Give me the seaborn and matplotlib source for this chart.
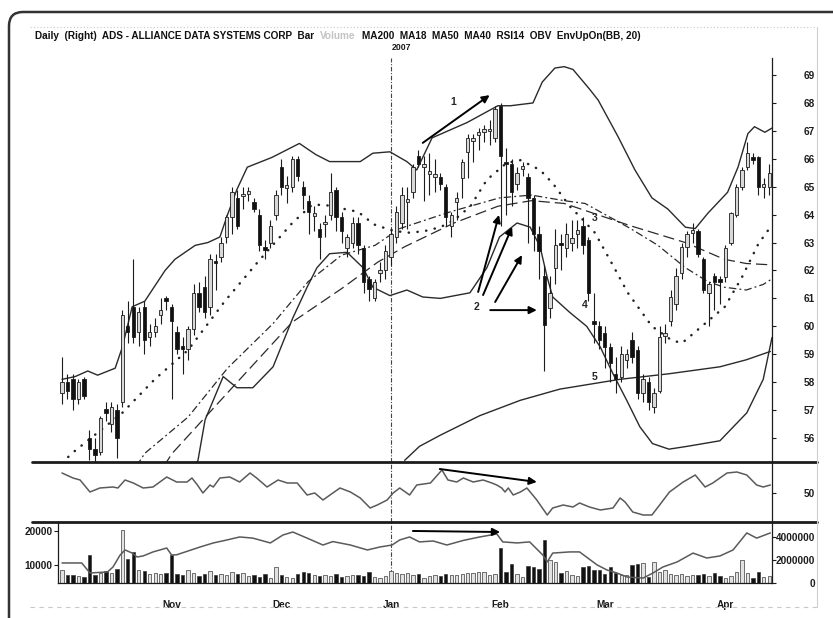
import matplotlib
matplotlib.use("Agg")
import matplotlib.pyplot as plt
import numpy as np
import pandas as pd
import seaborn as sns
from matplotlib.patches import FancyBboxPatch
from matplotlib.lines import Line2D

# ---------------- data ----------------
bar_index = list(range(1, 131))

opens = [57.6, 58.0, 58.1, 57.4, 58.1, 56.0, 55.6, 55.5, 57.05, 56.5,
         57.0, 57.3, 60.0, 60.7, 59.8, 60.7, 59.6, 59.8, 60.4, 61.0,
         60.7, 59.8, 59.3, 59.2, 59.9, 61.2, 61.4, 60.7, 62.35, 62.5,
         63.2, 63.9, 64.6, 64.65, 64.75, 64.45, 64.0, 62.85, 63.0, 64.0,
         65.7, 64.95, 65.0, 66.0, 65.0, 64.5, 63.95, 63.5, 63.65, 64.0,
         64.9, 63.9, 62.8, 63.0, 63.7, 62.8, 61.7, 61.0, 61.9, 62.0,
         62.5, 63.2, 63.7, 64.45, 64.8, 66.1, 65.7, 65.45, 65.35, 65.35,
         65.0, 63.6, 64.45, 65.3, 66.25, 66.65, 66.85, 66.95, 67.0, 66.75,
         67.9, 65.85, 65.8, 65.1, 65.65, 65.35, 64.6, 63.3, 61.8, 60.65,
         62.1, 62.95, 62.8, 63.0, 63.3, 63.6, 63.1, 60.2, 60.0, 59.75,
         59.25, 58.3, 58.2, 58.8, 59.5, 59.15, 57.6, 58.0, 57.1, 57.7,
         59.65, 60.2, 60.8, 61.9, 62.85, 63.35, 63.4, 62.4, 61.2, 61.8,
         61.65, 61.75, 63.0, 64.0, 65.0, 65.7, 66.05, 66.05, 65.0, 65.0]
highs = [58.9, 58.3, 58.3, 58.1, 58.2, 56.3, 56.0, 56.8, 57.3, 57.3,
         57.2, 60.6, 60.9, 62.4, 60.7, 60.9, 60.1, 60.3, 61.0, 61.1,
         60.8, 60.0, 59.6, 60.0, 61.5, 61.6, 61.8, 62.6, 62.6, 63.2,
         64.0, 65.0, 64.9, 65.0, 65.0, 64.6, 64.2, 63.1, 63.8, 64.9,
         66.0, 65.4, 66.1, 66.1, 65.2, 64.7, 64.3, 63.7, 64.0, 65.5,
         65.0, 64.1, 63.3, 63.9, 63.9, 62.9, 61.8, 61.7, 62.3, 62.9,
         63.5, 64.3, 65.0, 65.0, 65.8, 66.3, 66.1, 66.2, 66.0, 65.5,
         65.1, 64.1, 64.8, 66.0, 66.9, 66.9, 67.1, 67.2, 67.4, 67.9,
         68.0, 66.4, 66.0, 65.7, 65.9, 65.5, 64.7, 63.6, 62.2, 61.8,
         63.5, 63.3, 63.7, 63.8, 63.8, 63.9, 63.2, 61.2, 60.2, 60.0,
         59.4, 58.9, 59.3, 59.2, 59.8, 59.3, 58.3, 58.2, 57.8, 60.0,
         60.1, 61.3, 62.1, 63.0, 63.4, 63.7, 63.5, 62.5, 61.6, 61.9,
         61.8, 62.9, 64.1, 65.1, 65.7, 66.6, 66.2, 66.1, 65.3, 65.8]
lows = [57.2, 57.4, 57.0, 57.2, 57.4, 55.2, 55.1, 55.4, 56.6, 56.2,
        55.3, 57.1, 59.4, 59.4, 59.3, 59.0, 59.3, 59.6, 60.1, 60.6,
        57.4, 59.0, 58.3, 58.8, 59.7, 60.5, 60.3, 60.4, 61.3, 62.3,
        63.0, 63.3, 63.5, 64.2, 64.5, 64.1, 62.7, 62.4, 62.8, 63.8,
        64.7, 64.4, 64.8, 65.2, 64.2, 63.3, 63.4, 62.4, 63.2, 63.8,
        63.4, 63.0, 62.5, 62.8, 62.6, 61.2, 60.9, 60.9, 61.6, 61.7,
        62.2, 63.0, 63.5, 63.5, 64.6, 65.7, 64.5, 64.7, 64.8, 64.9,
        63.6, 63.2, 63.8, 64.6, 65.3, 65.9, 66.3, 66.6, 66.5, 66.6,
        63.6, 64.0, 64.3, 64.9, 65.4, 63.0, 62.7, 61.7, 58.4, 60.3,
        61.5, 62.0, 62.5, 62.7, 62.8, 62.6, 60.9, 59.4, 59.2, 58.5,
        58.0, 57.6, 58.0, 58.5, 58.7, 57.4, 57.3, 57.0, 56.9, 57.6,
        59.4, 60.0, 60.6, 61.7, 62.5, 63.0, 62.5, 61.2, 60.0, 60.6,
        60.8, 61.6, 62.9, 63.9, 64.9, 65.6, 65.8, 64.7, 64.6, 64.7]
closes = [58.0, 57.7, 57.4, 58.0, 57.5, 55.6, 55.4, 56.7, 56.9, 57.1,
          56.0, 60.4, 59.8, 59.6, 60.5, 59.5, 59.8, 60.0, 60.6, 60.9,
          60.2, 59.2, 59.2, 59.9, 61.2, 60.7, 60.5, 62.4, 62.25, 63.0,
          63.9, 64.8, 63.6, 64.75, 64.85, 64.2, 62.9, 62.75, 63.6, 64.7,
          65.0, 65.05, 66.0, 65.4, 64.7, 64.1, 64.05, 63.2, 63.75, 64.8,
          63.9, 63.4, 63.2, 63.7, 62.9, 61.6, 61.35, 61.6, 62.0, 62.7,
          63.3, 64.1, 64.7, 64.55, 65.7, 65.8, 65.8, 65.55, 65.45, 65.1,
          63.9, 64.0, 64.6, 65.9, 66.75, 66.75, 66.95, 67.05, 67.0, 67.8,
          66.1, 65.8, 64.8, 65.5, 65.75, 64.6, 63.3, 62.7, 60.05, 61.2,
          62.9, 62.9, 63.3, 63.15, 63.45, 62.9, 61.2, 60.1, 59.5, 59.25,
          58.7, 58.1, 59.0, 59.0, 58.9, 57.6, 58.1, 57.3, 57.6, 59.6,
          59.75, 61.05, 61.8, 62.85, 63.3, 63.45, 62.6, 61.3, 61.5, 61.6,
          61.6, 62.8, 64.05, 65.0, 65.6, 66.2, 65.95, 65.0, 65.1, 65.5]
volumes = [8500, 7000, 7200, 6800, 6600, 12900, 7000, 7600, 8200, 7600,
           8900, 20300, 11800, 13800, 8600, 8300, 7400, 7700, 7300, 7500,
           12900, 7400, 7200, 8400, 7600, 6900, 7300, 8300, 7000, 7300,
           7100, 7900, 7300, 7700, 6800, 7000, 6600, 7400, 6200, 9400,
           7000, 6500, 6300, 7400, 7800, 7600, 7000, 6800, 7200, 6900,
           7300, 6400, 6700, 7100, 7200, 6800, 7900, 6500, 6300, 6900,
           8300, 7500, 7300, 7600, 7000, 7400, 6300, 6900, 7000, 6700,
           7400, 7100, 7000, 7400, 7600, 7700, 7800, 7900, 7100, 7400,
           15000, 8000, 10300, 7300, 6400, 9700, 9300, 8900, 17300, 11400,
           10800, 7600, 8200, 7200, 6800, 9400, 9700, 8600, 8600, 7300,
           9300, 7600, 7000, 7200, 9900, 10300, 10600, 6400, 11000, 8000,
           8400, 7300, 7100, 7300, 6900, 7200, 7000, 7300, 6900, 7600,
           6700, 6300, 6700, 7800, 11400, 7600, 6300, 7800, 6400, 6700]

bb_upper_x = [1.0, 3.4, 5.7, 7.5, 10.7, 12.0, 13.8, 16.1, 19.8, 21.6, 25.3, 27.6, 29.8, 31.2,
              32.9, 34.8, 39.3, 44.3, 47.3, 49.8, 55.4, 57.7, 60.8, 63.9, 65.7, 68.5, 74.9,
              80.5, 82.8, 86.9, 88.6, 90.9, 92.6, 94.2, 97.2, 98.8, 102.4, 105.5, 108.6,
              111.5, 114.7, 116.5, 118.8, 122.4, 124.3, 126.1, 127.3, 129.2, 130.5]
bb_upper_y = [58.1, 58.2, 58.4, 58.25, 58.5, 59.25, 60.7, 60.9, 62.0, 62.4, 62.9, 63.0, 63.2, 64.0,
              64.9, 65.7, 66.05, 66.55, 66.15, 65.9, 65.9, 66.2, 66.25, 65.9, 65.6, 66.75, 67.3,
              67.9, 67.9, 68.0, 68.75, 69.25, 69.3, 69.2, 68.5, 68.1, 66.8, 65.6, 64.6,
              64.2, 63.55, 63.5, 64.05, 64.8, 65.7, 66.9, 67.15, 66.95, 67.1]
bb_lower_x = [22.1, 25.8, 27.1, 30.4, 32.9, 35.8, 39.5, 43.1, 45.7, 47.5, 49.8, 53.0, 55.9, 57.7,
              60.8, 63.9, 66.8, 70.0, 75.4, 78.5, 80.8, 84.0, 86.4, 88.2, 89.5, 90.5, 93.6,
              96.7, 99.2, 101.5, 104.0, 106.4, 108.7, 111.7, 115.0, 121.0, 125.9, 128.9, 130.5]
bb_lower_y = [53.8, 55.2, 56.65, 58.2, 57.8, 57.8, 58.55, 60.3, 61.4, 62.1, 62.6, 62.65, 62.1, 61.4,
              61.1, 61.3, 61.05, 61.0, 61.2, 62.1, 63.2, 63.7, 63.55, 62.85, 61.75, 61.05, 60.5,
              60.0, 59.25, 58.3, 57.35, 56.4, 55.8, 55.6, 55.7, 55.9, 56.9, 58.1, 59.6]
ma18_x = [1.0, 2.8, 12.0, 17.9, 24.0, 30.7, 36.7, 43.0, 46.6, 48.9, 55.0, 57.9, 60.9, 63.9, 66.9,
          70.0, 72.5, 75.5, 78.5, 82.1, 84.6, 88.2, 90.6, 93.6, 95.6, 98.2, 101.3, 104.2, 108.6,
          112.2, 114.1, 117.7, 121.9, 125.0, 128.0, 130.2]
ma18_y = [55.1, 55.45, 56.9, 58.1, 59.15, 60.9, 62.3, 63.7, 64.35, 64.35, 64.1, 63.65, 63.45, 63.35,
          63.4, 63.55, 63.8, 64.3, 65.25, 65.85, 65.95, 65.6, 65.1, 64.3, 63.9, 63.35, 62.25,
          61.2, 60.0, 59.5, 59.4, 60.0, 60.7, 61.75, 62.95, 63.55]
ma40_x = [14.6, 16.1, 24.0, 31.2, 39.5, 45.9, 52.0, 58.1, 62.6, 71.8, 80.8, 86.6, 92.6, 96.4,
          104.7, 109.7, 114.7, 118.8, 121.8, 125.8, 128.9, 130.5]
ma40_y = [55.0, 55.45, 56.75, 58.5, 60.1, 61.6, 62.55, 62.9, 63.5, 64.1, 64.6, 64.7, 64.5, 64.4,
          63.5, 62.9, 62.1, 61.6, 61.4, 61.3, 61.5, 61.7]
ma50_x = [19.6, 21.1, 32.5, 43.0, 52.0, 58.6, 63.5, 72.5, 80.5, 86.6, 92.6, 96.4, 104.7, 114.7,
          121.8, 125.8, 130.5]
ma50_y = [55.0, 55.45, 57.9, 60.15, 61.35, 62.3, 62.85, 63.7, 64.3, 64.5, 64.4, 64.15, 63.6, 63.0,
          62.4, 62.25, 62.2]
ma200_x = [63.5, 66.2, 70.0, 77.2, 84.6, 91.8, 102.7, 111.7, 121.0, 125.8, 130.2]
ma200_y = [55.2, 55.7, 56.1, 56.8, 57.35, 57.75, 58.1, 58.3, 58.55, 58.8, 59.1]

rsi_x = [1.0, 3.0, 4.3, 6.1, 7.9, 10.3, 11.2, 12.5, 14.0, 15.8, 17.6, 20.1, 21.9, 23.8, 24.7,
         25.7, 26.7, 28.0, 28.6, 29.8, 31.6, 33.4, 35.3, 36.5, 38.4, 40.4, 42.1, 43.9, 45.7,
         47.1, 48.6, 50.4, 51.7, 53.6, 55.4, 57.2, 58.5, 60.3, 61.4, 62.6, 64.4, 65.7, 68.2,
         70.3, 71.4, 73.0, 74.2, 76.0, 77.8, 79.4, 80.3, 81.2, 81.8, 82.4, 83.3, 84.6, 85.8,
         87.6, 89.5, 90.5, 92.4, 94.2, 95.4, 97.2, 99.2, 101.5, 102.8, 103.7, 105.1, 107.0,
         108.6, 110.0, 111.8, 114.3, 116.5, 118.3, 119.7, 121.0, 122.3, 124.1, 125.9, 127.7,
         128.9, 130.2]
rsi_y = [70, 65, 63, 51, 55, 56, 55, 63, 60, 55, 56, 66, 61, 61, 65,
         58, 50, 58, 56, 65, 66, 61, 70, 65, 56, 63, 60, 60, 48,
         50, 43, 50, 55, 51, 45, 35, 38, 43, 50, 55, 48, 58, 60,
         73, 63, 61, 65, 61, 63, 60, 58, 55, 51, 55, 48, 51, 55,
         43, 28, 35, 38, 36, 40, 36, 33, 35, 45, 41, 31, 28,
         28, 38, 51, 61, 68, 56, 60, 65, 70, 71, 68, 58,
         56, 58]
obv_x = [1.0, 4.6, 6.1, 9.3, 10.3, 11.6, 12.5, 13.8, 14.7, 15.8, 17.6, 20.1, 21.0, 21.9, 23.8,
         26.2, 28.6, 31.1, 33.4, 35.8, 39.0, 41.3, 43.1, 45.7, 48.6, 50.4, 53.6, 56.7, 59.0,
         61.2, 62.6, 64.4, 66.2, 68.7, 71.2, 74.2, 77.2, 80.3, 81.4, 84.0, 86.3, 88.7, 89.5,
         90.5, 93.6, 95.4, 98.6, 100.4, 102.2, 104.1, 107.0, 108.8, 110.6, 113.2, 116.1,
         118.6, 121.0, 123.4, 125.9, 127.7, 130.2]
obv_y = [1740000, 1740000, 870000, 960000, 1390000, 2430000, 2870000, 2600000, 2260000, 2350000,
         2700000, 3040000, 2430000, 2450000, 2750000, 3130000, 3480000, 3740000, 4000000, 3900000,
         3480000, 4170000, 4430000, 3900000, 3300000, 3600000, 3300000, 2870000, 3130000,
         3300000, 3740000, 4000000, 3570000, 3650000, 3300000, 3700000, 4000000, 4260000,
         3570000, 3480000, 3570000, 2430000, 1830000, 2600000, 2700000, 2700000, 1570000,
         1130000, 870000, 520000, 430000, 870000, 1390000, 1830000, 2600000, 2170000, 2350000,
         2870000, 4350000, 3900000, 4350000]

price_ticks = list(range(56, 70))
rsi_ticks = [50]
vol_ticks = [10000, 20000]
obv_ticks = [0, 2000000, 4000000]
month_ticks = [21, 41, 61, 81, 100, 122]
month_labels = ["Nov", "Dec", "Jan", "Feb", "Mar", "Apr"]
year_break = 61
year_label = "2007"
title_parts = [("Daily  (Right)  ADS - ALLIANCE DATA SYSTEMS CORP  Bar", "#111111"),
               ("Volume", "#c4c4c4"),
               ("MA200  MA18  MA50  MA40  RSI14  OBV  EnvUpOn(BB, 20)", "#111111")]

# ---------------- figure ----------------
sns.set_style("white")
plt.rcParams["font.family"] = ["Liberation Sans", "DejaVu Sans"]
plt.rcParams["font.weight"] = "bold"

W, H = 833, 618
fig = plt.figure(figsize=(W / 100, H / 100), dpi=100)
fig.patch.set_facecolor("white")


def fx(p):
    return p / W


def fy(p):
    return 1 - p / H


L, R = 58, 772
ax_p = fig.add_axes([fx(L), fy(462), fx(R) - fx(L), fy(58) - fy(462)])
ax_r = fig.add_axes([fx(L), fy(522), fx(R) - fx(L), fy(462) - fy(522)])
ax_v = fig.add_axes([fx(L), fy(583), fx(R) - fx(L), fy(522) - fy(583)])
ax_o = ax_v.twinx()
XLIM = (0.27, 130.5)
INK = "#1c1c1c"

df = pd.DataFrame({"idx": bar_index, "open": opens, "high": highs, "low": lows,
                   "close": closes, "volume": volumes})
up = (df["close"] >= df["open"]).to_numpy()
body_low = np.minimum(df["open"], df["close"])
body_h = np.maximum((df["close"] - df["open"]).abs(), 0.08)


def sline(ax, x, y, ls, lw, color=INK, cap="butt"):
    sns.lineplot(x=x, y=y, ax=ax, color=color, lw=lw, estimator=None, sort=False)
    ln = ax.lines[-1]
    ln.set_linestyle(ls)
    ln.set_dash_capstyle(cap)
    ln.set_solid_capstyle("round")
    ln.set_zorder(2)


# price panel
sline(ax_p, bb_upper_x, bb_upper_y, "-", 1.0, "#2a2a2a")
sline(ax_p, bb_lower_x, bb_lower_y, "-", 1.0, "#2a2a2a")
sline(ax_p, ma200_x, ma200_y, "-", 1.0, "#2a2a2a")
sline(ax_p, ma18_x, ma18_y, (0, (0.1, 3.4)), 1.8, "#222222", cap="round")
sline(ax_p, ma40_x, ma40_y, (0, (6, 2.5, 1.5, 2.5)), 0.9, "#2a2a2a")
sline(ax_p, ma50_x, ma50_y, (0, (9, 4)), 0.9, "#2a2a2a")

ax_p.vlines(df["idx"], df["low"], df["high"], color=INK, lw=0.8, zorder=3)
ax_p.bar(df["idx"], body_h, bottom=body_low, width=0.62,
         color=np.where(up, "#d8d8d8", "#111111"), edgecolor=INK, linewidth=0.6, zorder=4)

# rsi panel
sline(ax_r, rsi_x, rsi_y, "-", 1.1, "#5a5a5a")

# volume + obv panel
ax_v.bar(df["idx"], df["volume"], width=0.62,
         color=np.where(up, "#e2e2e2", "#111111"), edgecolor="#3a3a3a", linewidth=0.5, zorder=2)
sline(ax_o, obv_x, obv_y, "-", 1.1, "#5a5a5a")

# ---------------- axes styling ----------------
for ax in (ax_p, ax_r, ax_v, ax_o):
    ax.set_xlim(*XLIM)
    ax.set_xlabel("")
    ax.set_ylabel("")
    ax.set_facecolor("none")
    for s in ax.spines.values():
        s.set_visible(False)

ax_p.set_ylim(55.14, 69.61)
ax_r.set_ylim(21, 81)
ax_v.set_ylim(4700, 22650)
ax_o.set_ylim(0, 5300000)

for ax in (ax_p, ax_r):
    ax.set_xticks([])
    ax.spines["right"].set_visible(True)
    ax.spines["right"].set_color(INK)
    ax.spines["right"].set_linewidth(0.9)
    ax.yaxis.tick_right()

ax_p.set_yticks(price_ticks)
ax_p.set_yticklabels([str(t) for t in price_ticks])
ax_r.set_yticks(rsi_ticks)
ax_r.set_yticklabels([str(t) for t in rsi_ticks])
ax_o.set_yticks(obv_ticks)
ax_o.set_yticklabels([str(t) for t in obv_ticks])
for ax in (ax_p, ax_r, ax_o):
    ax.tick_params(axis="y", which="major", direction="out", length=3, width=0.8,
                   color=INK, labelsize=7.2, pad=28, labelcolor=INK)
    plt.setp(ax.get_yticklabels(), ha="right", fontweight="bold")

ax_o.spines["right"].set_visible(True)
ax_o.spines["right"].set_color(INK)
ax_o.spines["right"].set_linewidth(0.9)

ax_v.spines["left"].set_visible(True)
ax_v.spines["bottom"].set_visible(True)
for k in ("left", "bottom"):
    ax_v.spines[k].set_color(INK)
    ax_v.spines[k].set_linewidth(0.9)
ax_v.set_yticks(vol_ticks)
ax_v.set_yticklabels([str(t) for t in vol_ticks])
ax_v.tick_params(axis="y", direction="out", length=3, width=0.8, labelsize=7.2, pad=1,
                 color=INK, labelcolor=INK)
ax_v.set_xticks(month_ticks)
ax_v.set_xticklabels(month_labels)
ax_v.set_xticks(bar_index, minor=True)
ax_v.tick_params(axis="x", which="major", direction="inout", length=9, width=0.9,
                 labelsize=7.2, pad=8, color=INK, labelcolor=INK)
ax_v.tick_params(axis="x", which="minor", direction="out", length=3, width=0.6, color=INK)
plt.setp(ax_v.get_xticklabels() + ax_v.get_yticklabels(), fontweight="bold")
ax_o.set_zorder(ax_v.get_zorder() + 1)

# year break
for ax in (ax_p, ax_r, ax_v):
    ax.axvline(year_break, color="#444444", lw=0.8, ls=(0, (4, 1.5, 1, 1.5)), zorder=1)

# ---------------- annotations ----------------
arrow_kw = dict(arrowstyle="-|>", color="#000000", lw=1.4, mutation_scale=11,
                shrinkA=0, shrinkB=0)
ax_p.annotate("", xy=(79.0, 68.28), xytext=(66.8, 66.57), arrowprops=arrow_kw, zorder=6)
ax_p.text(72.3, 68.03, "1", fontsize=7.5, fontweight="bold", ha="center", va="center")
for (tx, ty), (hx, hy) in [((76.9, 61.23), (80.7, 63.99)), ((77.8, 61.12), (83.1, 63.56)),
                           ((80.0, 60.87), (84.9, 62.55)), ((79.1, 60.58), (87.6, 60.58))]:
    ax_p.annotate("", xy=(hx, hy), xytext=(tx, ty), arrowprops=arrow_kw, zorder=6)
ax_p.text(76.6, 60.69, "2", fontsize=7.5, fontweight="bold", ha="center", va="center")
ax_p.text(98.2, 63.88, "3", fontsize=7.5, fontweight="bold", ha="center", va="center")
ax_p.text(96.4, 60.76, "4", fontsize=7.5, fontweight="bold", ha="center", va="center")
ax_p.text(98.2, 58.18, "5", fontsize=7.5, fontweight="bold", ha="center", va="center")
ax_r.annotate("", xy=(87.6, 61), xytext=(69.9, 74), arrowprops=arrow_kw)
ax_o.annotate("", xy=(80.9, 4430000), xytext=(65.0, 4520000), arrowprops=arrow_kw)

# ---------------- frame decorations ----------------
# outer scanned-page border: rounded top-left corner, running off the right and bottom edges
fig.add_artist(FancyBboxPatch((0.09, -2.0), 20.0, 8.06,
                              boxstyle="round,pad=0,rounding_size=0.14",
                              transform=fig.dpi_scale_trans, fill=False,
                              ec="#333333", lw=1.8))
for yy in (462, 522):
    fig.add_artist(Line2D([fx(32), fx(817)], [fy(yy), fy(yy)], lw=2.0, color=INK))
fig.add_artist(Line2D([fx(30), fx(817)], [fy(27), fy(27)], lw=0.8, color="#c8c8c8",
                      ls=(0, (1, 2))))
fig.add_artist(Line2D([fx(817), fx(817)], [fy(27), fy(607)], lw=0.8, color="#cfcfcf"))
fig.add_artist(Line2D([fx(30), fx(817)], [fy(607), fy(607)], lw=0.8, color="#c8c8c8",
                      ls=(0, (4, 4))))

fig.text(fx(392), fy(47), year_label, fontsize=6.3, fontweight="bold", ha="left",
         va="center", color=INK)

# title, fitted to the width of the original header line
renderer = fig.canvas.get_renderer()


def place_title(fs):
    x = 35.0
    arts = []
    for txt, col in title_parts:
        t = fig.text(fx(x), fy(36), txt, color=col, fontsize=fs, fontweight="bold",
                     ha="left", va="center")
        x += t.get_window_extent(renderer).width + 6
        arts.append(t)
    return arts, x - 6 - 35


arts, width = place_title(7.0)
for a in arts:
    a.remove()
place_title(7.0 * 605 / width)

fig.savefig("out.png", dpi=100, facecolor="white")
